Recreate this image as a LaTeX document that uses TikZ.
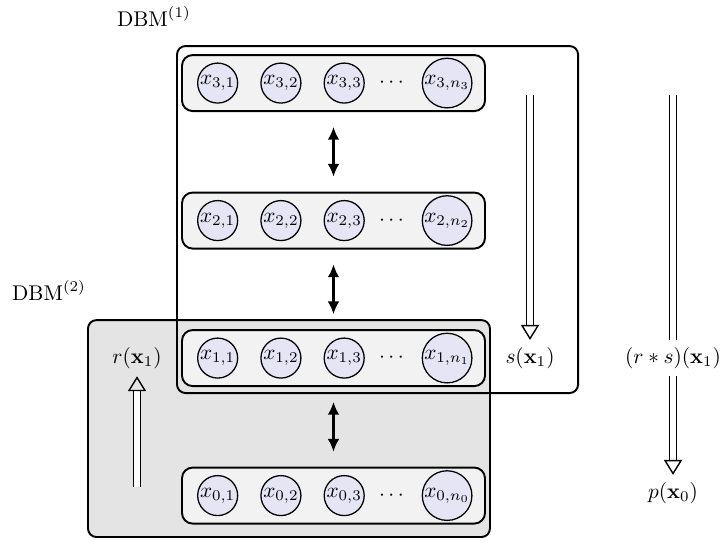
\documentclass[tikz,border=0pt]{standalone}
\usepackage{amsmath, amssymb}
\usetikzlibrary{arrows.meta,positioning,fit,backgrounds}
\usepackage{xcolor}

\definecolor{unitfill}{rgb}{0.9,0.9,0.96}
\definecolor{layerfill}{gray}{0.95}
\definecolor{dbmfill}{gray}{0.895}

\begin{document}
\begin{tikzpicture}[node distance=0.363cm,
		unit/.style={draw, semithick, circle, fill=unitfill, inner sep=0.3pt, minimum size=0.61cm},
		dots/.style={inner sep=0.5pt},
		layer/.style={draw, line width=0.9pt, rounded corners=5pt, fill=layerfill, minimum width=5cm, minimum height=0.924cm},
		dbm/.style={draw, line width=0.9pt, rounded corners=4pt, inner sep=0pt},
		link/.style={line width=1pt, {Latex[length=6pt,width=5.5pt]}-{Latex[length=6pt,width=5.5pt]}, shorten <=7pt, shorten >=7pt},
		flow/.style={double, double distance=2.8pt, line width=0.65pt},
		flowarrow/.style={flow, -{Triangle[open, length=7pt, width=8.5pt]}}]
	\useasboundingbox (0,0) rectangle (11.98,8.912);
	\foreach \l/\y in {0/0.734,1/3.003,2/5.272,3/7.541} {
		\node[layer] (b\l) at (5.503,\y) {};
		\node[unit, right=0.264cm of b\l.west] (x\l1) {$x_{\l,1}$};
		\node[unit, right=of x\l1] (x\l2) {$x_{\l,2}$};
		\node[unit, right=of x\l2] (x\l3) {$x_{\l,3}$};
		\node[dots, right=0.21cm of x\l3] (d\l) {$\cdots$};
		\node[unit, right=0.21cm of d\l] (x\l n) {$x_{\l,n_\l}$};
	}
	\draw[link] (b3) -- (b2);
	\draw[link] (b2) -- (b1);
	\draw[link] (b1) -- (b0);

	\node (r) at (2.261,3.003) {$r(\mathbf{x}_1)$};
	\node (s) at (8.746,3.003) {$s(\mathbf{x}_1)$};
	\node (rs) at (11.106,3.003) {$(r*s)(\mathbf{x}_1)$};
	\node (p) at (11.106,0.776) {$p(\mathbf{x}_0)$};
	\node (dbmonelabel) at (2.54,8.64) {$\mathrm{DBM}^{(1)}$};
	\node (dbmtwolabel) at (0.81,4.125) {$\mathrm{DBM}^{(2)}$};

	\coordinate (stop) at (8.746,7.343);
	\coordinate (rstop) at (11.106,7.343);
	\coordinate (rbot) at (2.261,0.875);
	\draw[flowarrow] (stop) -- (s);
	\draw[flow] (rstop) -- (rs);
	\draw[flowarrow] (rs) -- (p);
	\draw[flowarrow] (rbot) -- (r);

	\begin{scope}[on background layer]
		\node[dbm, fill=dbmfill, fit={(1.452,0.05) (8.085,3.63)}] (dbmtwo) {};
		\node[dbm, fit={(2.921,2.426) (9.539,8.152)}] (dbmone) {};
	\end{scope}
\end{tikzpicture}
\end{document}
